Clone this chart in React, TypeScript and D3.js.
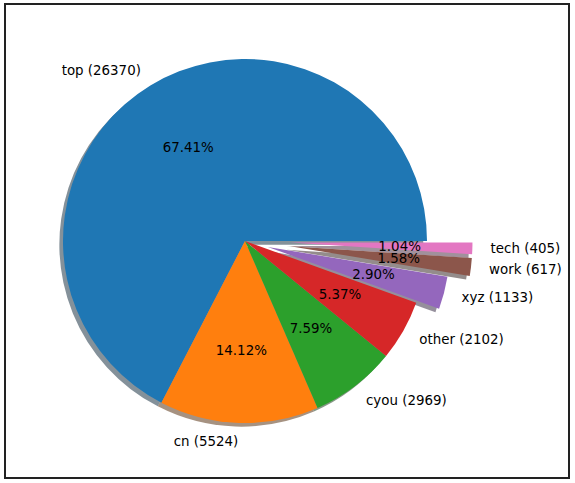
import React from "react";
import * as d3 from "d3";

const categories = ["top", "cn", "cyou", "other", "xyz", "work", "tech"];
const values = [26370, 5524, 2969, 2102, 1133, 617, 405];
const explode = [0, 0, 0, 0, 0.13, 0.25, 0.25];
const colors = ["#1f77b4", "#ff7f0e", "#2ca02c", "#d62728", "#9467bd", "#8c564b", "#e377c2"];

const W = 575;
const H = 483;
const cx = 245;
const cy = 241;
const R = 182;
const FONT = "'DejaVu Sans', sans-serif";

function shade(c: string) {
  const rgb = d3.rgb(c);
  return d3.rgb(rgb.r * 0.3, rgb.g * 0.3, rgb.b * 0.3).formatHex();
}

export default function App() {
  const total = d3.sum(values);
  const pie = d3
    .pie<number>()
    .sort(null)
    .startAngle(Math.PI / 2)
    .endAngle(Math.PI / 2 - 2 * Math.PI);
  const arcs = pie(values);
  const arcGen = d3.arc<d3.PieArcDatum<number>>().innerRadius(0).outerRadius(R);
  const sh = 0.02 * R;

  const items = arcs.map((a, i) => {
    const mid = (a.startAngle + a.endAngle) / 2;
    const ux = Math.sin(mid);
    const uy = -Math.cos(mid);
    const ox = explode[i] * R * ux;
    const oy = explode[i] * R * uy;
    return { a, i, ux, uy, ox, oy };
  });

  return (
    <svg
      width={W}
      height={H}
      style={{ position: "absolute", left: 0, top: 0, background: "#fff" }}
      fontFamily={FONT}
    >
      <rect x={0} y={0} width={W} height={H} fill="#fff" />
      <rect x={5} y={4} width={564} height={474} fill="none" stroke="#222" strokeWidth={2} />
      <g transform={`translate(${cx},${cy})`}>
        {items.map(({ a, i, ox, oy }) => (
          <path
            key={"s" + i}
            d={arcGen(a) || ""}
            transform={`translate(${ox - sh},${oy + sh})`}
            fill={shade(colors[i])}
            fillOpacity={0.5}
          />
        ))}
        {items.map(({ a, i, ox, oy }) => (
          <path key={"w" + i} d={arcGen(a) || ""} transform={`translate(${ox},${oy})`} fill={colors[i]} />
        ))}
        {items.map(({ i, ux, uy, ox, oy }) => {
          const lx = ox + 1.1 * R * ux;
          const ly = oy + 1.1 * R * uy;
          return (
            <text
              key={"l" + i}
              x={lx}
              y={ly}
              fontSize={13.4}
              fill="#000"
              textAnchor={lx > 0 ? "start" : "end"}
              dominantBaseline="central"
            >
              {`${categories[i]} (${values[i]})`}
            </text>
          );
        })}
        {items.map(({ i, ux, uy, ox, oy }) => (
          <text
            key={"p" + i}
            x={ox + 0.6 * R * ux}
            y={oy + 0.6 * R * uy}
            fontSize={13.4}
            fill="#000"
            textAnchor="middle"
            dominantBaseline="central"
          >
            {`${((values[i] / total) * 100).toFixed(2)}%`}
          </text>
        ))}
      </g>
    </svg>
  );
}
